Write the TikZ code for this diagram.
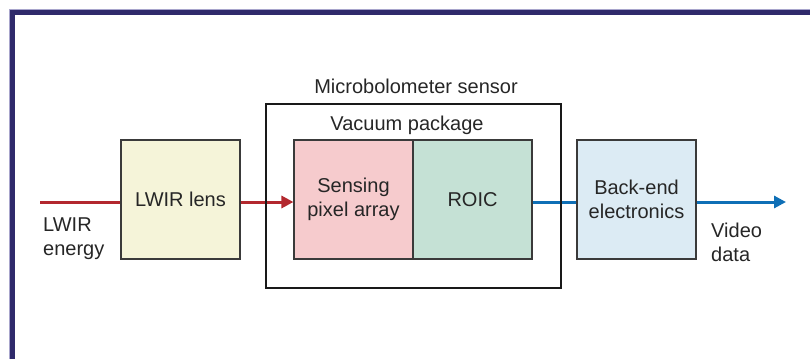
\documentclass[tikz,border=0pt]{standalone}
\usepackage{fontspec}
\setmainfont{Liberation Sans}
\usetikzlibrary{arrows.meta}
\definecolor{framec}{HTML}{2F2A6B}
\definecolor{framel}{HTML}{A8A5CC}
\definecolor{lensc}{HTML}{F5F4D9}
\definecolor{sensc}{HTML}{F6CBCD}
\definecolor{roicc}{HTML}{C5E1D5}
\definecolor{backc}{HTML}{DCEBF4}
\definecolor{redc}{HTML}{B3282E}
\definecolor{bluec}{HTML}{0E6FB6}
\definecolor{edgec}{HTML}{3A3A3A}
\begin{document}
\begin{tikzpicture}[x=1pt,y=-1pt,
  txt/.style={font=\fontsize{20}{24}\selectfont, text=black!85, inner sep=0pt},
  blk/.style={txt, draw=edgec, line width=1.1pt, minimum width=119pt, minimum height=119pt, align=center},
  redarrow/.style={draw=redc, line width=3pt, -{Triangle[length=12pt,width=12pt]}},
  bluearrow/.style={draw=bluec, line width=3pt, -{Triangle[length=12pt,width=12pt]}},
  redline/.style={draw=redc, line width=3pt},
  blueline/.style={draw=bluec, line width=3pt},
  framestyle/.style={line width=5pt, draw=framec, line cap=butt}]
\useasboundingbox (0,0) rectangle (810,359);
\clip (0,0) rectangle (810,359);
% frame
\draw[line width=6pt, draw=framel] (11.5,359) -- (11.5,11.5) -- (810,11.5);
\draw[framestyle] (12,359) -- (12,12) -- (810,12);
% blocks
\node[blk, fill=lensc] (lens) at (180.5,199.5) {LWIR lens};
\node[blk, fill=sensc] (sens) at (353.5,199.5) {Sensing\\pixel array};
\node[blk, fill=roicc] (roic) at (472.5,199.5) {ROIC};
\node[blk, fill=backc] (back) at (636.5,199.5) {Back-end\\electronics};
% connectors
\coordinate (in) at (40,202);
\coordinate (out) at (786,202);
\draw[redline] (in) -- (lens.west |- in);
\draw[redarrow] (lens.east |- in) -- (sens.west |- in);
\draw[blueline] (roic.east |- in) -- (back.west |- in);
\draw[bluearrow] (back.east |- in) -- (out);
% outer sensor box
\node[draw=black!90, line width=2.2pt, minimum width=295pt, minimum height=184pt, inner sep=0pt] (sensor) at (413.5,196) {};
% labels
\node[txt, anchor=base] (lblsensor) at (416,93) {Microbolometer sensor};
\node[txt, anchor=base] (lblvac) at (407,130) {Vacuum package};
\node[txt, anchor=north west, align=left] (lblin) at (43,217.7) {LWIR\\energy};
\node[txt, anchor=north west, align=left] (lblout) at (711,222.7) {Video\\data};
\end{tikzpicture}
\end{document}
